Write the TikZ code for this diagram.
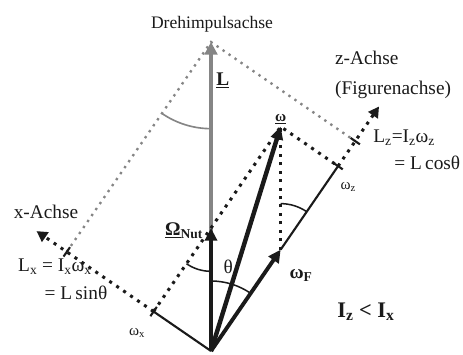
\documentclass[tikz,border=0pt]{standalone}
\usepackage{fontspec}
\setmainfont{Liberation Serif}
\usetikzlibrary{arrows.meta,calc}
\definecolor{ink}{HTML}{1A1A1A}
\definecolor{shade}{HTML}{858585}
\tikzset{
  vec/.style={-{Triangle[length=3.8mm,width=3.6mm]},draw=ink,line width=3.3pt},
  greyvec/.style={-{Triangle[length=3.8mm,width=3.8mm]},draw=shade,line width=4pt},
  segline/.style={draw=ink,line width=1.8pt},
  dots/.style={draw=ink,line width=2.6pt,dash pattern=on 2.6pt off 4.6pt},
  axisdots/.style={dots,-{Triangle[length=3.2mm,width=3.4mm]}},
  greydots/.style={draw=shade,line width=2pt,dash pattern=on 2pt off 4.2pt},
  tick/.style={draw=ink,line width=1.8pt},
  anglearc/.style={draw=ink,line width=1.3pt},
  lbl/.style={text=ink,font=\fontsize{16.5}{19}\selectfont,inner sep=1pt},
  small/.style={text=ink,font=\fontsize{13}{15}\selectfont,inner sep=1pt}}

\begin{document}
\begin{tikzpicture}
  \useasboundingbox (-6.33,-0.09) rectangle (7.56,10.53);
  \coordinate (O) at (0,0);
  \coordinate (Ltip) at (0,9.27);
  \coordinate (Nut) at (0,3.69);
  \coordinate (wF) at (55.5:3.69);
  \coordinate (w) at ($(Nut)+(wF)$);
  \coordinate (wz) at (55.5:6.73);
  \coordinate (wx) at (145.5:2.09);
  \coordinate (Lz) at (55.5:7.64);
  \coordinate (Lx) at (145.5:5.25);
  \coordinate (zend) at (55.5:8.9);
  \coordinate (xend) at (145.5:6.35);
  % projections of L
  \draw[greydots] (Lx) -- (Ltip) -- (Lz);
  \draw[greyvec] (O) -- (Ltip);
  \draw[draw=shade,line width=1.4pt] ([shift=(235.5:2.6)]Ltip) arc[start angle=235.5,end angle=270,radius=2.6];
  % axes and components
  \draw[axisdots] (wx) -- (xend);
  \draw[axisdots] (wz) -- (zend);
  \draw[segline] (O) -- (wx);
  \draw[segline] (wF) -- (wz);
  \draw[dots] (wx) -- (w) -- (wz);
  \draw[dots] (wF) -- (w);
  % vectors
  \draw[vec] (O) -- (Nut);
  \draw[vec] (O) -- (wF);
  \draw[vec,line width=3.8pt] (O) -- (w);
  \foreach \p/\q in {wx/xend,Lx/xend,wz/zend,Lz/zend}
    \draw[tick] ($(\p)!0.17cm!90:(\q)$) -- ($(\p)!0.17cm!-90:(\q)$);
  % angles
  \draw[anglearc] ([shift=(235.5:1.3)]Nut) arc[start angle=235.5,end angle=270,radius=1.3];
  \draw[anglearc] ([shift=(55.5:2.1)]O) arc[start angle=55.5,end angle=90,radius=2.1];
  \draw[anglearc] ([shift=(55.5:1.38)]wF) arc[start angle=55.5,end angle=90,radius=1.38];
  % labels
  \node[lbl,font=\fontsize{15}{17}\selectfont] (dreh) at (0.03,9.81) {Drehimpulsachse};
  \node[lbl,anchor=west] (Llbl) at (0.12,8.13) {\underline{\textbf{L}}};
  \node[small,above,yshift=1pt] (wlbl) at (w) {\underline{\textbf{ω}}};
  \node[lbl,anchor=west,align=left,font=\fontsize{16.5}{25.5}\selectfont] (zlbl) at (3.68,8.28) {z-Achse\\(Figurenachse)};
  \node[lbl,anchor=west] (Lzlbl) at (4.83,6.39) {L\textsubscript{z}=I\textsubscript{z}ω\textsubscript{z}};
  \node[lbl,anchor=east] (Lzcos) at (7.52,5.64) {= L\,cosθ};
  \node[small] (wzlbl) at (4.12,4.92) {ω\textsubscript{z}};
  \node[lbl] (wFlbl) at (2.7,2.28) {\textbf{ω\textsubscript{F}}};
  \node[lbl,font=\fontsize{19}{22}\selectfont] (ineq) at (4.65,1.17) {\textbf{I\textsubscript{z} < I\textsubscript{x}}};
  \node[lbl] (xlbl) at (-4.95,4.17) {x-Achse};
  \node[lbl] (Lxlbl) at (-4.68,2.52) {L\textsubscript{x} = I\textsubscript{x}ω\textsubscript{x}};
  \node[lbl] (Lxsin) at (-4.05,1.74) {= L\,sinθ};
  \node[small] (wxlbl) at (-2.22,0.54) {ω\textsubscript{x}};
  \node[lbl,anchor=east] (nutlbl) at (-0.2,3.6) {\underline{\textbf{Ω}}\textsubscript{\textbf{Nut}}};
  \node[lbl] (thlbl) at (0.52,2.52) {θ};
\end{tikzpicture}
\end{document}
